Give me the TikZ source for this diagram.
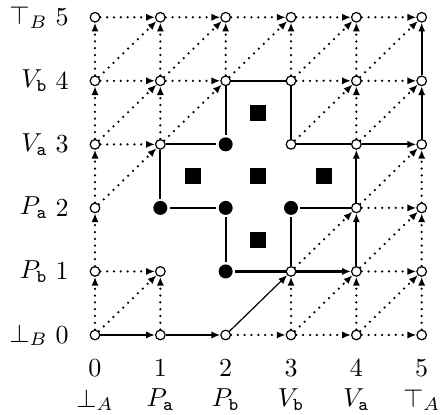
\documentclass[tikz,border=0pt]{standalone}
\usepackage{graphicx}
\usetikzlibrary{arrows.meta}
\begin{document}
\begin{tikzpicture}[x=32.67pt,y=31.77pt,
  open/.style={circle,draw,fill=white,inner sep=0pt,minimum size=4.8pt,line width=0.6pt},
  full/.style={circle,fill,inner sep=0pt,minimum size=7pt,outer sep=1.2pt},
  hole/.style={fill,inner sep=0pt,minimum size=8pt},
  tip/.style={-{Latex[length=4.4pt,width=3.6pt]}},
  dotarrow/.style={tip,line width=1.25pt,line cap=round,dash pattern=on 0pt off 3.4pt},
  solidarrow/.style={tip,line width=1.1pt},
  thinarrow/.style={tip,line width=0.6pt},
  border/.style={line width=1.1pt},
  lab/.style={inner sep=0pt}]
\useasboundingbox (-47.5pt,-40pt) rectangle (173pt,167.5pt);
% grid points
\foreach \i/\j in {0/0,1/0,2/0,3/0,4/0,5/0,
                   0/1,1/1,3/1,4/1,5/1,
                   0/2,4/2,5/2,
                   0/3,1/3,3/3,4/3,5/3,
                   0/4,1/4,2/4,3/4,4/4,5/4,
                   0/5,1/5,2/5,3/5,4/5,5/5}
  \node[open] (n\i\j) at (\i,\j) {};
\foreach \i/\j in {2/3,1/2,2/2,3/2,2/1}
  \node[full] (n\i\j) at (\i,\j) {};
% holes
\node[hole] (h1) at (2.5,3.5) {};
\node[hole] (h2) at (1.5,2.5) {};
\node[hole] (h3) at (2.5,2.5) {};
\node[hole] (h4) at (3.5,2.5) {};
\node[hole] (h5) at (2.5,1.5) {};
% dotted arrows
\foreach \a/\b in {05/15,15/25,25/35,35/45,45/55,
                   04/14,14/24,34/44,44/54,
                   03/13,42/52,01/11,41/51,
                   20/30,30/40,40/50,
                   00/01,01/02,02/03,03/04,04/05,
                   10/11,13/14,14/15,24/25,30/31,34/35,
                   40/41,43/44,44/45,50/51,51/52,52/53,
                   00/11,02/13,03/14,04/15,13/24,14/25,24/35,34/45,44/55,
                   33/44,43/54,30/41,40/51,31/42,41/52,42/53}
  \draw[dotarrow] (n\a) -- (n\b);
% solid arrows
\foreach \a/\b in {00/10,10/20,31/41,41/42,42/43,43/53,53/54,54/55}
  \draw[solidarrow] (n\a) -- (n\b);
\draw[thinarrow] (n20) -- (n31);
% border of the hole
\foreach \a/\b in {13/23,23/24,24/34,34/33,33/43,32/42,32/31,21/31,21/22,22/12,12/13}
  \draw[border] (n\a) -- (n\b);
% labels
\node[lab] (bn0) at (0,-16.5pt) {\scalebox{1.3}{$0$}};
\node[lab] (bn1) at (1,-16.5pt) {\scalebox{1.3}{$1$}};
\node[lab] (bn2) at (2,-16.5pt) {\scalebox{1.3}{$2$}};
\node[lab] (bn3) at (3,-16.5pt) {\scalebox{1.3}{$3$}};
\node[lab] (bn4) at (4,-16.5pt) {\scalebox{1.3}{$4$}};
\node[lab] (bn5) at (5,-16.5pt) {\scalebox{1.3}{$5$}};
\node[lab] (bl0) at (0,-32.5pt) {\scalebox{1.3}{$\bot_A$}};
\node[lab] (bl1) at (1,-32.5pt) {\scalebox{1.3}{$P_{\mathtt{a}}$}};
\node[lab] (bl2) at (2,-32.5pt) {\scalebox{1.3}{$P_{\mathtt{b}}$}};
\node[lab] (bl3) at (3,-32.5pt) {\scalebox{1.3}{$V_{\mathtt{b}}$}};
\node[lab] (bl4) at (4,-32.5pt) {\scalebox{1.3}{$V_{\mathtt{a}}$}};
\node[lab] (bl5) at (5,-32.5pt) {\scalebox{1.3}{$\top_A$}};
\foreach \j in {0,...,5}
  \node[lab] (ln\j) at (-16.5pt,\j) {\scalebox{1.3}{$\j$}};
\node[lab,anchor=east] (ll0) at (-23.5pt,0) {\scalebox{1.3}{$\bot_B$}};
\node[lab,anchor=east] (ll1) at (-23.5pt,1) {\scalebox{1.3}{$P_{\mathtt{b}}$}};
\node[lab,anchor=east] (ll2) at (-23.5pt,2) {\scalebox{1.3}{$P_{\mathtt{a}}$}};
\node[lab,anchor=east] (ll3) at (-23.5pt,3) {\scalebox{1.3}{$V_{\mathtt{a}}$}};
\node[lab,anchor=east] (ll4) at (-23.5pt,4) {\scalebox{1.3}{$V_{\mathtt{b}}$}};
\node[lab,anchor=east] (ll5) at (-23.5pt,5) {\scalebox{1.3}{$\top_B$}};
\end{tikzpicture}
\end{document}
